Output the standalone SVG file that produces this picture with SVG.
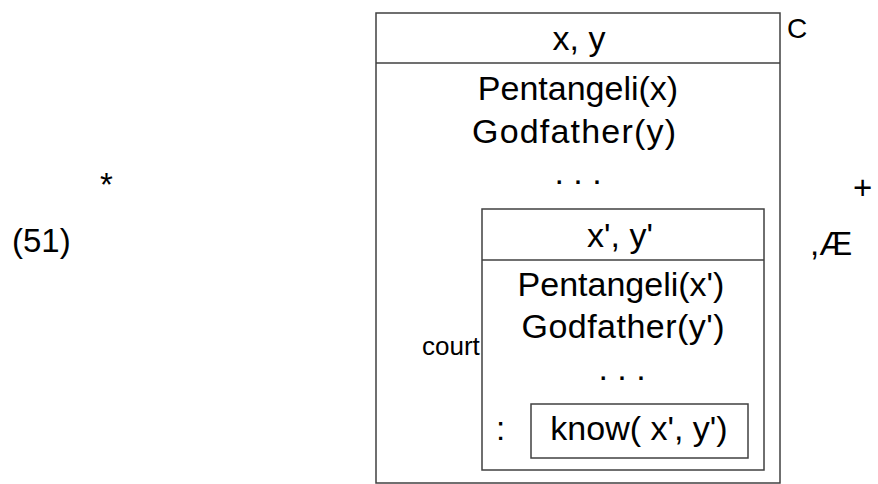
<svg xmlns="http://www.w3.org/2000/svg" width="878" height="484" viewBox="0 0 878 484">
  <style>
    text { font-family: "Liberation Sans", Arial, sans-serif; fill: #000; }
    .main { font-size: 33px; }
    .mid { font-size: 34px; text-anchor: middle; }
    .small { font-size: 26px; }
    .box { fill: none; stroke: #404040; stroke-width: 1.5; }
  </style>

  <!-- loose marks around the structure -->
  <text class="main" x="12" y="252">(51)</text>
  <text class="main" x="100" y="196">*</text>
  <text class="main" x="853" y="199">+</text>
  <text class="main" x="810" y="255">,Æ</text>
  <text class="small" x="787" y="38" style="font-size:28px">C</text>
  <text class="small" x="422" y="355">court</text>

  <!-- outer box: x, y -->
  <g id="outer-box">
    <rect class="box" x="376" y="13" width="404" height="470"/>
    <line class="box" x1="376" y1="63" x2="780" y2="63"/>
    <text class="mid" x="579" y="50">x, y</text>
    <text class="mid" x="578" y="100">Pentangeli(x)</text>
    <text class="mid" x="574" y="143" textLength="204" lengthAdjust="spacing">Godfather(y)</text>
    <text class="mid" x="578" y="184">. . .</text>
  </g>

  <!-- inner box: x', y' -->
  <g id="inner-box">
    <rect class="box" x="482" y="209" width="282" height="261"/>
    <line class="box" x1="482" y1="260" x2="764" y2="260"/>
    <text class="mid" x="620" y="247">x', y'</text>
    <text class="mid" x="621" y="296">Pentangeli(x')</text>
    <text class="mid" x="623" y="338" textLength="203" lengthAdjust="spacing">Godfather(y')</text>
    <text class="mid" x="622" y="380">. . .</text>
    <text class="main" x="496" y="440">:</text>
  </g>

  <!-- innermost condition -->
  <g id="know-box">
    <rect class="box" x="531" y="404" width="217" height="54"/>
    <text class="mid" x="639" y="440">know( x', y')</text>
  </g>
</svg>
